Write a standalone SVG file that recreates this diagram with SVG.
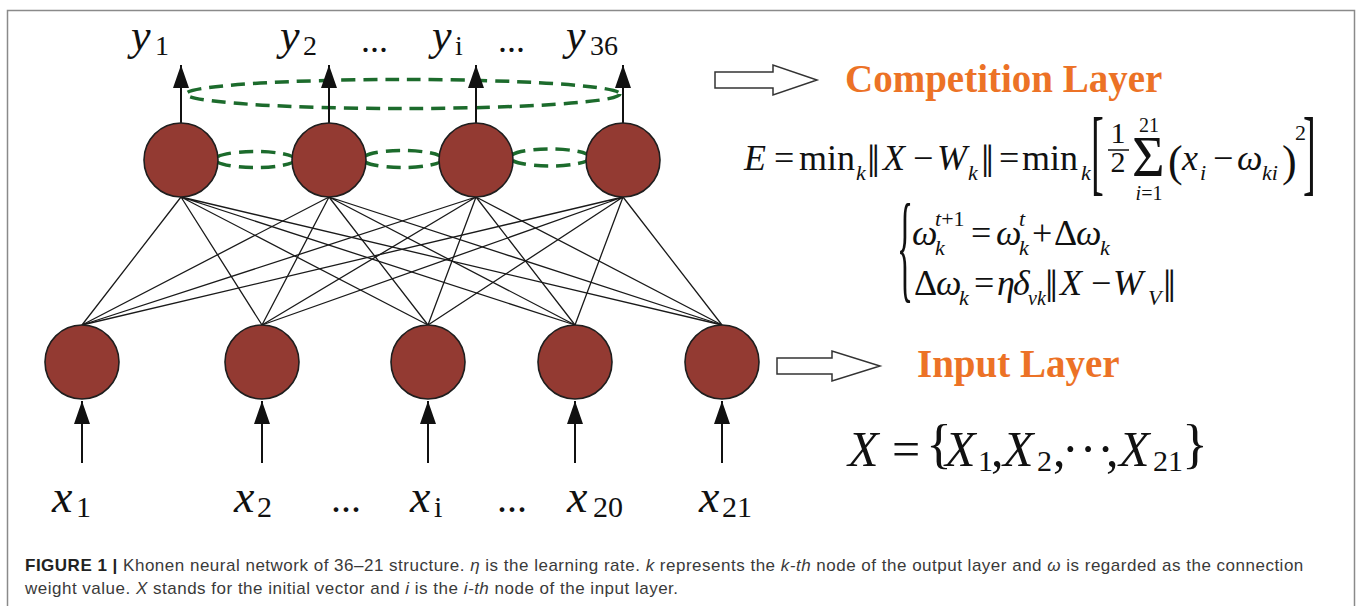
<svg xmlns="http://www.w3.org/2000/svg" width="1360" height="606" viewBox="0 0 1360 606">
<defs>
<style>
.frame{fill:none;stroke:#8a8a8a;stroke-width:1.5}
.node{fill:#933a32;stroke:#1e1e1e;stroke-width:1.6}
.w{stroke:#1a1a1a;stroke-width:1.3;fill:none}
.ar{stroke:#111;stroke-width:2;fill:none}
.lat{fill:none;stroke:#1c6b2c;stroke-width:3.5;stroke-dasharray:14 8}
.hollow{fill:#fff;stroke:#333;stroke-width:1.5}
.tm{font-family:"Liberation Serif","DejaVu Serif",serif;fill:#111}
.it{font-style:italic}
.ttl{font-family:"Liberation Serif",serif;font-weight:bold;fill:#ec7226;font-size:39px}
.cap{font-family:"Liberation Sans",Arial,sans-serif;font-size:17px;letter-spacing:0.5px;fill:#3a3a3a}
</style>
<marker id="ah" viewBox="0 0 23 16" refX="23" refY="8" markerWidth="23" markerHeight="16" markerUnits="userSpaceOnUse" orient="auto">
<path d="M0,0 L23,8 L0,16 z" fill="#111"/>
</marker>
</defs>
<rect x="0" y="0" width="1360" height="606" fill="#fff"/>
<rect class="frame" x="7.5" y="10.5" width="1347" height="610"/>

<g id="connectors">
<g class="w">
<path d="M181,197L82,325M181,197L262,325M181,197L428,325M181,197L575,325M181,197L722,325"/>
<path d="M329,197L82,325M329,197L262,325M329,197L428,325M329,197L575,325M329,197L722,325"/>
<path d="M476,197L82,325M476,197L262,325M476,197L428,325M476,197L575,325M476,197L722,325"/>
<path d="M623,197L82,325M623,197L262,325M623,197L428,325M623,197L575,325M623,197L722,325"/>
</g>
<ellipse class="lat" cx="403" cy="94" rx="217" ry="14.5"/>
<ellipse class="lat" cx="255" cy="159.5" rx="40" ry="8"/>
<ellipse class="lat" cx="402.5" cy="159" rx="40" ry="8.5"/>
<ellipse class="lat" cx="550" cy="157.5" rx="40" ry="8.5"/>
<g class="ar">
<path d="M181,123V65" marker-end="url(#ah)"/>
<path d="M329,123V65" marker-end="url(#ah)"/>
<path d="M476,123V65" marker-end="url(#ah)"/>
<path d="M623,123V65" marker-end="url(#ah)"/>
<path d="M82,463V401" marker-end="url(#ah)"/>
<path d="M262,463V401" marker-end="url(#ah)"/>
<path d="M428,463V401" marker-end="url(#ah)"/>
<path d="M575,463V401" marker-end="url(#ah)"/>
<path d="M722,463V401" marker-end="url(#ah)"/>
</g>
<polygon class="hollow" points="715,72 773,72 773,65 817,80 773,95 773,88 715,88"/>
<polygon class="hollow" points="777,358 832,358 832,351 880,366 832,381 832,374 777,374"/>
</g>

<g id="competition-nodes">
<g id="y1-node"><circle class="node" cx="181" cy="160" r="37"/></g>
<g id="y2-node"><circle class="node" cx="329" cy="160" r="37"/></g>
<g id="yi-node"><circle class="node" cx="476" cy="160" r="37"/></g>
<g id="y36-node"><circle class="node" cx="623" cy="160" r="37"/></g>
</g>
<g id="input-nodes">
<g id="x1-node"><circle class="node" cx="82" cy="362" r="37"/></g>
<g id="x2-node"><circle class="node" cx="262" cy="362" r="37"/></g>
<g id="xi-node"><circle class="node" cx="428" cy="362" r="37"/></g>
<g id="x20-node"><circle class="node" cx="575" cy="362" r="37"/></g>
<g id="x21-node"><circle class="node" cx="722" cy="362" r="37"/></g>
</g>

<g id="output-labels" class="tm">
<text y="50" font-size="44"><tspan class="it" x="131">y</tspan><tspan x="155" y="55" font-size="28">1</tspan></text>
<text y="50" font-size="44"><tspan class="it" x="280">y</tspan><tspan x="303" y="55" font-size="28">2</tspan></text>
<text x="361" y="52" font-size="36">...</text>
<text y="50" font-size="44"><tspan class="it" x="432">y</tspan><tspan x="455" y="55" font-size="28">i</tspan></text>
<text x="498" y="52" font-size="36">...</text>
<text y="50" font-size="44"><tspan class="it" x="566">y</tspan><tspan x="590" y="55" font-size="28">36</tspan></text>
</g>

<g id="input-labels" class="tm">
<text y="512" font-size="46"><tspan class="it" x="52">x</tspan><tspan x="76" y="517" font-size="30">1</tspan></text>
<text y="512" font-size="46"><tspan class="it" x="234">x</tspan><tspan x="257" y="517" font-size="30">2</tspan></text>
<text x="331" y="512" font-size="40">...</text>
<text y="512" font-size="46"><tspan class="it" x="410">x</tspan><tspan x="434" y="517" font-size="30">i</tspan></text>
<text x="497" y="512" font-size="40">...</text>
<text y="512" font-size="46"><tspan class="it" x="567">x</tspan><tspan x="593" y="517" font-size="30">20</tspan></text>
<text y="512" font-size="46"><tspan class="it" x="699">x</tspan><tspan x="722" y="517" font-size="30">21</tspan></text>
</g>

<g id="competition-title"><text class="ttl" x="845" y="92">Competition Layer</text></g>
<g id="input-title"><text class="ttl" x="917" y="377">Input Layer</text></g>

<g id="formula-E" class="tm" font-size="36">
<text x="744" y="170" class="it">E</text>
<text x="774" y="170">=</text>
<text x="799" y="170">min</text>
<text x="856" y="180" font-size="22" class="it">k</text>
<text x="867" y="177" font-size="46">‖</text>
<text x="883" y="170" class="it">X</text>
<text x="913" y="170">−</text>
<text x="937" y="170" class="it">W</text>
<text x="968" y="180" font-size="22" class="it">k</text>
<text x="981" y="177" font-size="46">‖</text>
<text x="999" y="170">=</text>
<text x="1022" y="170">min</text>
<text x="1081" y="180" font-size="22" class="it">k</text>
<text transform="translate(1091,183) scale(0.4,1)" font-size="96">[</text>
<text x="1118" y="143" font-size="30" text-anchor="middle">1</text>
<path d="M1108,150H1129" stroke="#111" stroke-width="1.5"/>
<text x="1118" y="172" font-size="30" text-anchor="middle">2</text>
<text x="1149" y="132" font-size="20" text-anchor="middle">21</text>
<text x="1132" y="176" font-size="56">Σ</text>
<text x="1149" y="200" font-size="20" text-anchor="middle"><tspan class="it">i</tspan>=1</text>
<text x="1168" y="176" font-size="44">(</text>
<text x="1182" y="170" class="it">x</text>
<text x="1200" y="180" font-size="22" class="it">i</text>
<text x="1213" y="170">−</text>
<text x="1237" y="170" class="it">ω</text>
<text x="1262" y="180" font-size="22" class="it">ki</text>
<text x="1282" y="176" font-size="44">)</text>
<text x="1295" y="140" font-size="22">2</text>
<text transform="translate(1303,183) scale(0.4,1)" font-size="96">]</text>
</g>

<g id="formula-update" class="tm" font-size="36">
<text transform="translate(897,287) scale(0.28,1)" font-size="120">{</text>
<text x="912" y="245" class="it">ω</text>
<text x="935" y="255" font-size="22" class="it">k</text>
<text x="935" y="226" font-size="22"><tspan class="it">t</tspan>+1</text>
<text x="971" y="245">=</text>
<text x="996" y="245" class="it">ω</text>
<text x="1019" y="226" font-size="22" class="it">t</text>
<text x="1019" y="255" font-size="22" class="it">k</text>
<text x="1032" y="245">+</text>
<text x="1054" y="245">Δ</text>
<text x="1076" y="245" class="it">ω</text>
<text x="1100" y="255" font-size="22" class="it">k</text>
<text x="914" y="295">Δ</text>
<text x="936" y="295" class="it">ω</text>
<text x="959" y="305" font-size="22" class="it">k</text>
<text x="974" y="295">=</text>
<text x="997" y="295" class="it">η</text>
<text x="1013" y="295" class="it">δ</text>
<text x="1028" y="305" font-size="20" class="it">vk</text>
<text x="1045" y="302" font-size="46">‖</text>
<text x="1060" y="295" class="it">X</text>
<text x="1091" y="295">−</text>
<text x="1113" y="295" class="it">W</text>
<text x="1148" y="305" font-size="22" class="it">V</text>
<text x="1163" y="302" font-size="46">‖</text>
</g>

<g id="formula-X" class="tm" font-size="50">
<text x="848" y="466" class="it">X</text>
<text x="892" y="466">=</text>
<text x="926" y="462" font-size="54">{</text>
<text x="945" y="466" class="it">X</text>
<text x="978" y="471" font-size="30">1</text>
<text x="991" y="466">,</text>
<text x="1003" y="466" class="it">X</text>
<text x="1037" y="471" font-size="30">2</text>
<text x="1053" y="466">,</text>
<text x="1062" y="466" letter-spacing="1">···</text>
<text x="1106" y="466">,</text>
<text x="1119" y="466" class="it">X</text>
<text x="1153" y="471" font-size="30">21</text>
<text x="1182" y="462" font-size="54">}</text>
</g>

<g id="caption" class="cap">
<text x="25" y="571"><tspan font-weight="bold" fill="#222">FIGURE 1 |</tspan> Khonen neural network of 36–21 structure. <tspan font-style="italic">η</tspan> is the learning rate. <tspan font-style="italic">k</tspan> represents the <tspan font-style="italic">k-th</tspan> node of the output layer and <tspan font-style="italic">ω</tspan> is regarded as the connection</text>
<text x="25" y="594">weight value. <tspan font-style="italic">X</tspan> stands for the initial vector and <tspan font-style="italic">i</tspan> is the <tspan font-style="italic">i-th</tspan> node of the input layer.</text>
</g>
</svg>
